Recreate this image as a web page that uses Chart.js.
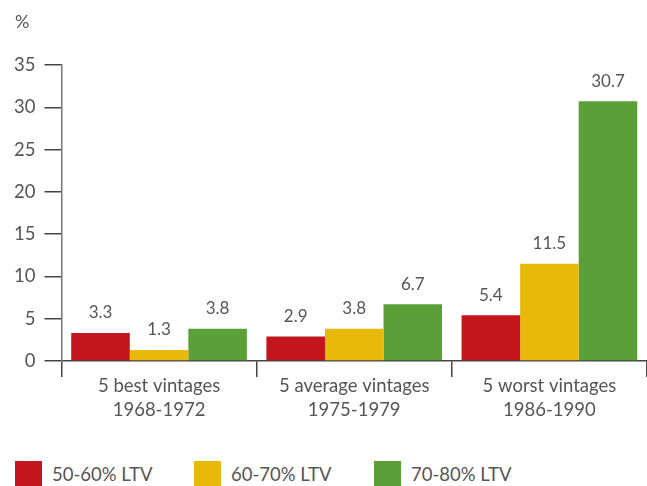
<!DOCTYPE html>
<html>
<head>
<meta charset="utf-8">
<script src="https://cdn.jsdelivr.net/npm/chart.js@4"></script>
<style>
  body { margin: 0; background: #fff; font-family: Lato, sans-serif; }
  .wrap { position: relative; width: 647px; height: 486px; overflow: hidden; }
  .chartBox { position: absolute; left: 0; top: 0; width: 647px; height: 419px; }
  .legend { position: absolute; top: 461px; left: 0; width: 647px; height: 25px; }
  .legend .item { position: absolute; top: 0; height: 25px; line-height: 26px; font-size: 18.5px; color: #555; white-space: nowrap; }
  .legend .box { display: inline-block; width: 27px; height: 25px; vertical-align: top; margin-right: 10px; }
</style>
</head>
<body>
<div class="wrap">
  <div class="chartBox"><canvas id="chart"></canvas></div>
  <div class="legend" id="legend"></div>
</div>
<script>
const categories = [['5 best vintages', '1968-1972'], ['5 average vintages', '1975-1979'], ['5 worst vintages', '1986-1990']];
const seriesNames = ['50-60% LTV', '60-70% LTV', '70-80% LTV'];
const ltv50 = [3.3, 2.9, 5.4];
const ltv60 = [1.3, 3.8, 11.5];
const ltv70 = [3.8, 6.7, 30.7];
const colors = ['#c4141c', '#e8b80a', '#5a9f38'];
const legendLeft = [15, 194, 374]; // legend item x positions

const textColor = '#555';

// value labels above each bar
const valueLabels = {
  id: 'valueLabels',
  afterDatasetsDraw(chart) {
    const ctx = chart.ctx;
    ctx.save();
    ctx.fillStyle = textColor;
    ctx.font = '17px Lato';
    ctx.textAlign = 'center';
    ctx.textBaseline = 'middle';
    chart.data.datasets.forEach((ds, i) => {
      chart.getDatasetMeta(i).data.forEach((bar, j) => {
        ctx.fillText(ds.data[j].toFixed(1), bar.x, bar.y - 20);
      });
    });
    ctx.restore();
  }
};

// "%" unit label at top left
const unitLabel = {
  id: 'unitLabel',
  afterDraw(chart) {
    const ctx = chart.ctx;
    ctx.save();
    ctx.fillStyle = textColor;
    ctx.font = '18px Lato';
    ctx.textAlign = 'left';
    ctx.textBaseline = 'middle';
    ctx.fillText('%', 15, 22);
    ctx.restore();
  }
};

new Chart(document.getElementById('chart'), {
  type: 'bar',
  data: {
    labels: categories,
    datasets: [
      { label: seriesNames[0], data: ltv50, backgroundColor: colors[0] },
      { label: seriesNames[1], data: ltv60, backgroundColor: colors[1] },
      { label: seriesNames[2], data: ltv70, backgroundColor: colors[2] }
    ]
  },
  options: {
    responsive: true,
    maintainAspectRatio: false,
    animation: false,
    datasets: { bar: { categoryPercentage: 0.9, barPercentage: 1.0 } },
    layout: { padding: { left: 5, top: 65, right: 0, bottom: 0 } },
    plugins: {
      legend: { display: false },
      tooltip: { enabled: false }
    },
    scales: {
      x: {
        grid: { drawOnChartArea: false, offset: true, tickLength: 16, color: '#444', lineWidth: 1.5 },
        border: { color: '#444', width: 1.5 },
        ticks: { color: textColor, font: { family: 'Lato', size: 18.5, lineHeight: 1.3 }, padding: -3 }
      },
      y: {
        min: 0,
        max: 35,
        ticks: { stepSize: 5, color: textColor, font: { family: 'Lato', size: 18.5 }, padding: 9 },
        grid: { drawOnChartArea: false, tickLength: 17, color: '#444', lineWidth: 1.5 },
        border: { color: '#777', width: 1.5 }
      }
    }
  },
  plugins: [valueLabels, unitLabel]
});

// legend built from the series arrays
const legend = document.getElementById('legend');
seriesNames.forEach((name, i) => {
  const item = document.createElement('div');
  item.className = 'item';
  item.style.left = legendLeft[i] + 'px';
  item.innerHTML = `<span class="box" style="background:${colors[i]}"></span>${name}`;
  legend.appendChild(item);
});
</script>
</body>
</html>
